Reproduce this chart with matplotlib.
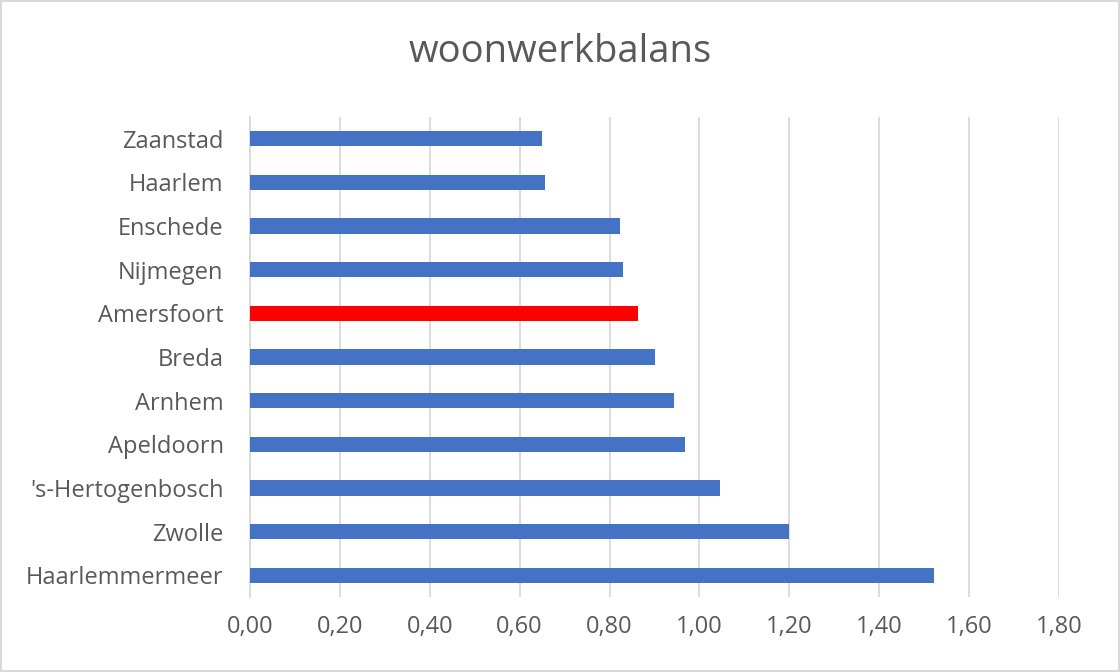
import matplotlib.pyplot as plt
from matplotlib.patches import Rectangle
from matplotlib.ticker import FuncFormatter

gemeenten = ["Haarlemmermeer", "Zwolle", "'s-Hertogenbosch", "Apeldoorn", "Arnhem",
             "Breda", "Amersfoort", "Nijmegen", "Enschede", "Haarlem", "Zaanstad"]
waarden = [1.522, 1.20, 1.046, 0.969, 0.943, 0.901, 0.863, 0.829, 0.824, 0.657, 0.650]
kleuren = ["#FF0000" if g == "Amersfoort" else "#4472C4" for g in gemeenten]

plt.rcParams['font.family'] = ['Open Sans', 'DejaVu Sans']

fig = plt.figure(figsize=(11.2, 6.72), dpi=100)
ax = fig.add_axes([0.2232, 0.1116, 0.7223, 0.7143])

ax.barh(range(len(gemeenten)), waarden, height=0.35, color=kleuren, zorder=3)

ax.set_xlim(0, 1.8)
ax.set_ylim(-0.5, len(gemeenten) - 0.5)
ax.set_xticks([i * 0.2 for i in range(10)])
ax.xaxis.set_major_formatter(FuncFormatter(lambda v, p: f"{v:.2f}".replace(".", ",")))
ax.set_yticks(range(len(gemeenten)))
ax.set_yticklabels(gemeenten)

ax.grid(axis="x", color="#D9D9D9", linewidth=1.3, zorder=0)
for s in ["top", "right", "bottom"]:
    ax.spines[s].set_visible(False)
ax.spines["left"].set_color("#D9D9D9")
ax.spines["left"].set_linewidth(1.3)

ax.tick_params(axis="both", length=0, labelsize=17, labelcolor="#595959")
ax.tick_params(axis="x", pad=13)
ax.tick_params(axis="y", pad=19)

fig.text(0.5, 0.922, "woonwerkbalans", ha="center", va="center", fontsize=27.5, color="#595959")

fig.patches.append(Rectangle((0.001, 0.001), 0.998, 0.998, transform=fig.transFigure,
                             fill=False, edgecolor="#D9D9D9", linewidth=1.5))

fig.savefig("out.png", dpi=100)
